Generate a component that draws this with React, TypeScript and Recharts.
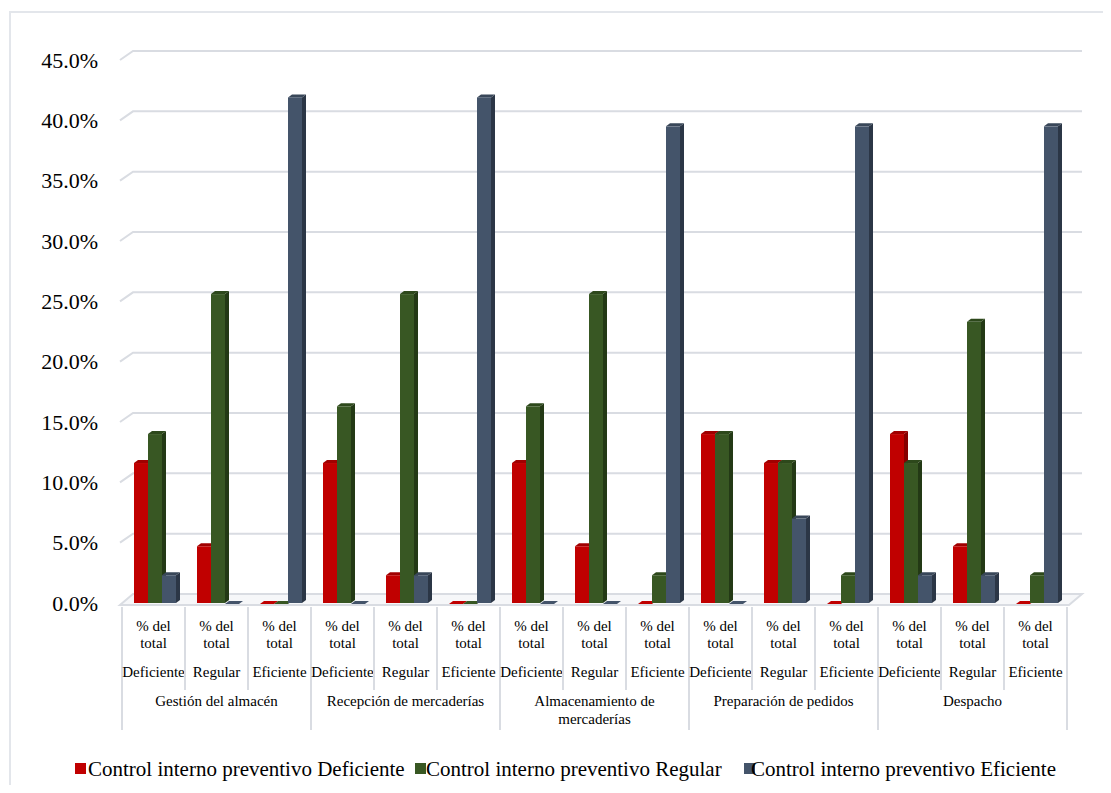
import React from 'react';
import { BarChart, Bar, XAxis, YAxis, CartesianGrid } from 'recharts';

// Categories: each dimension split into three levels, value shown as "% del total"
const groups = ['Gestión del almacén', 'Recepción de mercaderías', 'Almacenamiento de mercaderías', 'Preparación de pedidos', 'Despacho'];
const groupLines = [['Gestión del almacén'], ['Recepción de mercaderías'], ['Almacenamiento de', 'mercaderías'], ['Preparación de pedidos'], ['Despacho']];
const levels = ['Deficiente', 'Regular', 'Eficiente'];

// Control interno preventivo, % del total
const deficiente = [11.6, 4.7, 0, 11.6, 2.3, 0, 11.6, 4.7, 0, 14.0, 11.6, 0, 14.0, 4.7, 0];
const regular = [14.0, 25.6, 0, 16.3, 25.6, 0, 16.3, 25.6, 2.3, 14.0, 11.6, 2.3, 11.6, 23.3, 2.3];
const eficiente = [2.3, 0, 41.9, 0, 2.3, 41.9, 0, 0, 39.5, 0, 7.0, 39.5, 2.3, 2.3, 39.5];

const yTicks = [0, 5, 10, 15, 20, 25, 30, 35, 40, 45];

const data = deficiente.map((_, i) => ({
  key: `${i}`,
  group: groups[Math.floor(i / 3)],
  level: levels[i % 3],
  def: deficiente[i],
  reg: regular[i],
  efi: eficiente[i],
}));

const W = 1111;
const H = 793;
const PLOT_LEFT = 122;
const PLOT_RIGHT = 1067;
const PLOT_TOP = 60;
const PLOT_BOTTOM = 603;
const BAND = (PLOT_RIGHT - PLOT_LEFT) / data.length;
const DX = 13; // depth offset of the back wall
const DY = 9;
const FONT = '"Liberation Serif", Tinos, "Noto Serif", "Nimbus Roman", FreeSerif, "DejaVu Serif", serif';
const GRID = '#d9dce2';

const series = [
  { key: 'def', name: 'Control interno preventivo Deficiente', front: '#c00000', side: '#860000', top: '#a00000' },
  { key: 'reg', name: 'Control interno preventivo Regular', front: '#385723', side: '#233915', top: '#2d481b' },
  { key: 'efi', name: 'Control interno preventivo Eficiente', front: '#44546a', side: '#2b3646', top: '#394759' },
];

function Bar3D(props: any) {
  const { x, y, width, height, front, side, top } = props;
  if (x == null || y == null) return null;
  const bx = x + 2;
  const d = 4;
  const e = 3;
  const h = Math.max(0, height || 0);
  const topFace = `M${bx},${y} L${bx + d},${y - e} L${bx + width + d},${y - e} L${bx + width},${y} Z`;
  if (h < 0.5) {
    return <path d={`M${bx},${y + 1} L${bx + d},${y - e + 1} L${bx + width + d},${y - e + 1} L${bx + width},${y + 1} Z`} fill={front} />;
  }
  const sideFace = `M${bx + width},${y} L${bx + width + d},${y - e} L${bx + width + d},${y + h - e} L${bx + width},${y + h} Z`;
  return (
    <g>
      <path d={sideFace} fill={side} />
      <path d={topFace} fill={top} />
      <rect x={bx} y={y} width={width} height={h} fill={front} />
    </g>
  );
}

function GridLine(props: any) {
  const { y1, x1, x2 } = props;
  const isFloor = Math.abs(y1 - PLOT_BOTTOM) < 1;
  const back = y1 - DY;
  if (isFloor) {
    return (
      <g key={`g-${y1}`}>
        <path
          d={`M${x1 - 2},${y1 + 2} L${x2 + 2},${y1 + 2} L${x2 + DX + 2},${back} L${x1 + DX - 2},${back} Z`}
          fill="#f6f7f9"
          stroke={GRID}
          strokeWidth={2}
        />
      </g>
    );
  }
  return (
    <path
      key={`g-${y1}`}
      d={`M${x1 - 2},${y1} L${x1 + DX - 2},${back} L${x2 + DX + 2},${back}`}
      fill="none"
      stroke={GRID}
      strokeWidth={2}
    />
  );
}

function YTick(props: any) {
  const { y, payload } = props;
  return (
    <text x={98} y={y} textAnchor="end" dominantBaseline="central" fontFamily={FONT} fontSize={22} fill="#000">
      {`${Number(payload.value).toFixed(1)}%`}
    </text>
  );
}

function XTick(props: any) {
  const { x, index } = props;
  const left = x - BAND / 2;
  const right = x + BAND / 2;
  const row = data[index];
  const isGroupStart = index % 3 === 0;
  const isLast = index === data.length - 1;
  const gi = Math.floor(index / 3);
  const txt = { fontFamily: FONT, fontSize: 15, fill: '#000', textAnchor: 'middle' as const, dominantBaseline: 'central' as const };
  return (
    <g>
      <line x1={left} y1={607} x2={left} y2={isGroupStart ? 730 : 690} stroke={GRID} strokeWidth={2} />
      {isLast && <line x1={right} y1={607} x2={right} y2={730} stroke={GRID} strokeWidth={2} />}
      <text x={x} y={626} {...txt}>% del</text>
      <text x={x} y={643} {...txt}>total</text>
      <text x={x} y={672} {...txt}>{row.level}</text>
      {index % 3 === 1 &&
        groupLines[gi].map((line, li) => (
          <text key={li} x={x} y={701 + li * 18} {...txt}>
            {line}
          </text>
        ))}
    </g>
  );
}

const legendPos = [
  { marker: 75, text: 88 },
  { marker: 415, text: 426 },
  { marker: 744, text: 751 },
];

export default function App() {
  return (
    <div style={{ position: 'relative', width: W, height: H, margin: -8, background: '#fff', fontFamily: FONT, overflow: 'hidden' }}>
      <div style={{ position: 'absolute', left: 9, top: 11, width: W, height: H, borderLeft: `2px solid #e3e6eb`, borderTop: `2px solid #e3e6eb` }} />
      <BarChart
        width={W}
        height={H}
        data={data}
        margin={{ top: PLOT_TOP, right: W - PLOT_RIGHT, bottom: 0, left: 0 }}
        barCategoryGap={10}
        barGap={0}
        style={{ position: 'absolute', left: 0, top: 0 }}
      >
        <CartesianGrid vertical={false} horizontal={(p: any) => <GridLine {...p} />} />
        <YAxis
          width={PLOT_LEFT}
          domain={[0, 45]}
          ticks={yTicks}
          interval={0}
          axisLine={false}
          tickLine={false}
          tick={<YTick />}
        />
        <XAxis dataKey="key" height={H - PLOT_BOTTOM} interval={0} axisLine={false} tickLine={false} tick={<XTick />} />
        {series.map((s) => (
          <Bar
            key={s.key}
            dataKey={s.key}
            name={s.name}
            isAnimationActive={false}
            fill={s.front}
            shape={(p: any) => <Bar3D {...p} front={s.front} side={s.side} top={s.top} />}
          />
        ))}
      </BarChart>
      {series.map((s, i) => (
        <div key={s.key} style={{ position: 'absolute', top: 758, left: 0, height: 22 }}>
          <div style={{ position: 'absolute', left: legendPos[i].marker, top: 5, width: 11, height: 11, background: s.front }} />
          <div style={{ position: 'absolute', left: legendPos[i].text, top: 0, fontSize: 21, lineHeight: '22px', whiteSpace: 'nowrap', color: '#000' }}>
            {s.name}
          </div>
        </div>
      ))}
    </div>
  );
}
